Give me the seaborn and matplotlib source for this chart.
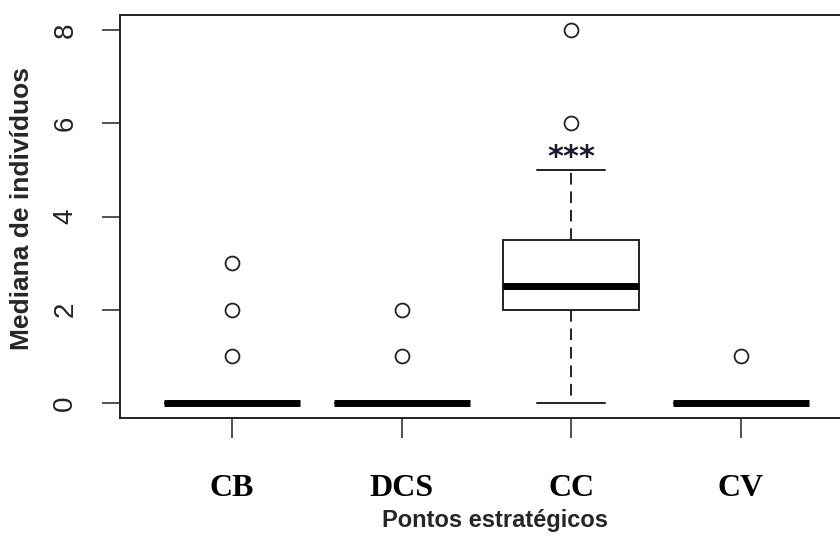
import numpy as np
import pandas as pd
import matplotlib
matplotlib.use("Agg")
import matplotlib.pyplot as plt
import seaborn as sns

# Data (medians of individuals per strategic point)
pontos = ["CB", "DCS", "CC", "CV"]
cb_vals = [0] * 30 + [1, 2, 3]
dcs_vals = [0] * 30 + [1, 2]
cc_vals = [0, 1, 2, 2, 2, 2.5, 2.5, 3, 3, 3.5, 5, 6, 8]
cv_vals = [0] * 30 + [1]
signif_label = "***"
signif_y = 5.08

df = pd.DataFrame({
    "ponto": ["CB"] * len(cb_vals) + ["DCS"] * len(dcs_vals)
             + ["CC"] * len(cc_vals) + ["CV"] * len(cv_vals),
    "valor": cb_vals + dcs_vals + cc_vals + cv_vals,
})

sns.set_style("white")
fig = plt.figure(figsize=(8.4, 5.38), dpi=100)
ax = fig.add_axes([120 / 840, (538 - 418) / 538, (853 - 120) / 840, (418 - 15) / 538])

line_col = "#222222"
sns.boxplot(data=df, x="ponto", y="valor", order=pontos, ax=ax,
            width=0.8, color="white", linecolor=line_col, linewidth=1.4,
            whis=1.5, fliersize=10,
            whiskerprops=dict(linestyle=(0, (6, 3.5))),
            medianprops=dict(linewidth=5, color="black", solid_capstyle="butt"),
            flierprops=dict(marker="o", markerfacecolor="none",
                            markeredgecolor=line_col, markeredgewidth=1.3))

# significance marker above CC
ax.text(pontos.index("CC"), signif_y, signif_label, ha="center", va="baseline",
        fontsize=22, fontweight="bold", color="#1a1a2e", family="DejaVu Sans")

ax.set_xlim(-0.66, 3.66)
ax.set_ylim(-0.32, 8.32)
ax.set_yticks([0, 2, 4, 6, 8])
ax.set_yticklabels(["0", "2", "4", "6", "8"], rotation=90, va="center",
                   family="Liberation Sans", fontsize=20, color="#222222")
ax.set_xticks(range(len(pontos)))
ax.set_xticklabels(pontos, family="Liberation Serif", fontweight="bold",
                   fontsize=23, color="black")

ax.tick_params(axis="y", direction="out", length=13, width=1.1, pad=17,
               left=True, colors="#222222", labelcolor="#222222")
ax.tick_params(axis="x", direction="out", length=14.5, width=1.1, pad=26,
               bottom=True, colors="#222222", labelcolor="black")

for s in ax.spines.values():
    s.set_visible(True)
    s.set_color("#222222")
    s.set_linewidth(1.4)

ax.set_xlabel("Pontos estratégicos", family="Liberation Sans",
              fontweight="bold", fontsize=17)
ax.xaxis.set_label_coords(0.511, -0.226)
ax.set_ylabel("Mediana de indivíduos", family="Liberation Sans",
              fontweight="bold", fontsize=19)
ax.yaxis.set_label_coords(-0.117, 0.519)

fig.savefig("out.png", dpi=100)
